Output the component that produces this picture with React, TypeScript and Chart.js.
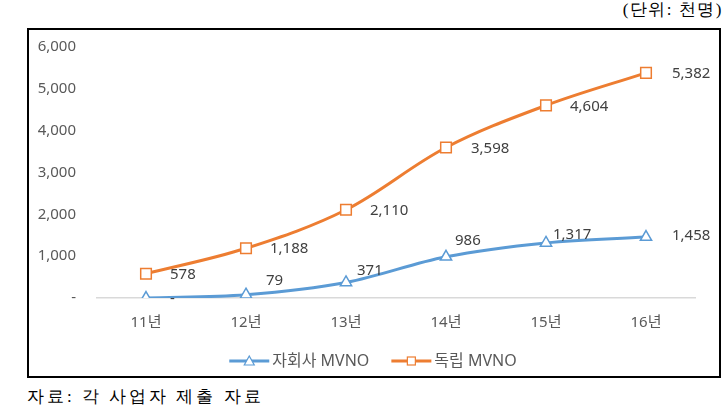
import React, { useEffect, useRef } from "react";
import { Chart, registerables } from "chart.js";

Chart.register(...registerables);

const categories = ["11년", "12년", "13년", "14년", "15년", "16년"];
const subsidiaryValues = [0, 79, 371, 986, 1317, 1458];
const independentValues = [578, 1188, 2110, 3598, 4604, 5382];
const seriesNames = ["자회사 MVNO", "독립 MVNO"];
const yTicks = [0, 1000, 2000, 3000, 4000, 5000, 6000];

const BLUE = "#5B9BD5";
const ORANGE = "#ED7D31";
const FONT = "'Noto Sans', 'Noto Sans CJK KR', sans-serif";

// label offsets relative to each point (style, not data)
const blueLabelOffsets = [
  [24, 1],
  [20, -14],
  [11, -12],
  [9, -16],
  [7, -8],
  [26, -1],
];
const orangeLabelOffsets = [
  [24, 1],
  [24, 0],
  [24, 1],
  [25, 1],
  [24, 1],
  [26, 1],
];

const fmt = (v: number) => (v === 0 ? "-" : v.toLocaleString("en-US"));

const labelPlugin = {
  id: "customLabels",
  afterDatasetsDraw(chart: any) {
    const ctx = chart.ctx;
    ctx.save();
    ctx.font = `15px ${FONT}`;
    ctx.fillStyle = "#404040";
    ctx.textAlign = "left";
    ctx.textBaseline = "middle";
    chart.data.datasets.forEach((ds: any, di: number) => {
      const meta = chart.getDatasetMeta(di);
      const offs = di === 0 ? blueLabelOffsets : orangeLabelOffsets;
      meta.data.forEach((el: any, i: number) => {
        const [dx, dy] = offs[i];
        ctx.fillText(fmt(ds.data[i]), el.x + dx, el.y + dy);
      });
    });
    ctx.restore();
  },
  afterDraw(chart: any) {
    const ctx = chart.ctx;
    ctx.save();
    ctx.font = `16px ${FONT}`;
    const y = 331;
    const lineW = 40;
    const gap = 3;
    const itemGap = 22;
    const widths = chart.data.datasets.map(
      (ds: any) => lineW + gap + ctx.measureText(ds.label).width
    );
    const total = widths.reduce((a: number, b: number) => a + b, 0) + itemGap * (widths.length - 1);
    let x = 344 - total / 2;
    chart.data.datasets.forEach((ds: any, di: number) => {
      ctx.strokeStyle = ds.borderColor;
      ctx.lineWidth = 3;
      ctx.beginPath();
      ctx.moveTo(x, y);
      ctx.lineTo(x + lineW, y);
      ctx.stroke();
      ctx.fillStyle = "#ffffff";
      ctx.lineWidth = 1.2;
      const cx = x + lineW / 2;
      if (ds.pointStyle === "rect") {
        ctx.fillRect(cx - 4, y - 4, 8, 8);
        ctx.strokeRect(cx - 4, y - 4, 8, 8);
      } else {
        ctx.beginPath();
        ctx.moveTo(cx, y - 5);
        ctx.lineTo(cx + 5, y + 4);
        ctx.lineTo(cx - 5, y + 4);
        ctx.closePath();
        ctx.fill();
        ctx.stroke();
      }
      ctx.fillStyle = "#595959";
      ctx.textAlign = "left";
      ctx.textBaseline = "middle";
      ctx.fillText(ds.label, x + lineW + gap, y);
      x += widths[di] + itemGap;
    });
    ctx.restore();
  },
};

export default function App() {
  const ref = useRef<HTMLCanvasElement | null>(null);
  useEffect(() => {
    if (!ref.current) return;
    const chart = new Chart(ref.current, {
      type: "line",
      data: {
        labels: categories,
        datasets: [
          {
            label: seriesNames[0],
            data: subsidiaryValues,
            borderColor: BLUE,
            backgroundColor: "#ffffff",
            borderWidth: 3,
            tension: 0.35,
            pointStyle: "triangle",
            pointRadius: 6.5,
            pointBorderWidth: 1.5,
            pointBorderColor: BLUE,
            pointBackgroundColor: "#ffffff",
          },
          {
            label: seriesNames[1],
            data: independentValues,
            borderColor: ORANGE,
            backgroundColor: "#ffffff",
            borderWidth: 3,
            tension: 0.35,
            pointStyle: "rect",
            pointRadius: 7.5,
            pointBorderWidth: 1.5,
            pointBorderColor: ORANGE,
            pointBackgroundColor: "#ffffff",
          },
        ],
      },
      options: {
        animation: false,
        responsive: false,
        maintainAspectRatio: false,
        layout: { padding: { top: 17, right: 23, left: 0, bottom: 0 } },
        plugins: {
          legend: { display: false },
          tooltip: { enabled: false },
        },
        scales: {
          x: {
            offset: true,
            grid: { display: false, offset: true },
            border: { display: false },
            ticks: {
              color: "#595959",
              font: { family: FONT, size: 15 },
              padding: 8,
            },
            afterFit: (s: any) => {
              s.height = 78;
              s.paddingLeft = 0;
              s.paddingRight = 0;
            },
          },
          y: {
            min: 0,
            max: 6000,
            afterBuildTicks: (s: any) => {
              s.ticks = yTicks.map((v) => ({ value: v }));
            },
            grid: {
              drawTicks: false,
              color: (c: any) => (c.tick && c.tick.value === 0 ? "#d9d9d9" : "rgba(0,0,0,0)"),
              lineWidth: 1.5,
            },
            border: { display: false },
            ticks: {
              color: "#595959",
              font: { family: FONT, size: 15 },
              padding: 20,
              callback: (v: any) => fmt(Number(v)),
            },
            afterFit: (s: any) => {
              s.width = 67;
              s.paddingTop = 0;
              s.paddingBottom = 0;
            },
          },
        },
      },
      plugins: [labelPlugin],
    });
    return () => chart.destroy();
  }, []);

  return (
    <div
      style={{
        position: "fixed",
        left: 0,
        top: 0,
        width: 726,
        height: 414,
        background: "#ffffff",
      }}
    >
      <div
        style={{
          position: "absolute",
          right: 3,
          top: 0,
          fontFamily: "serif",
          fontSize: 17,
          lineHeight: "19px",
          letterSpacing: 1.5,
          color: "#000",
          whiteSpace: "nowrap",
        }}
      >
        (단위: 천명)
      </div>
      <div
        style={{
          position: "absolute",
          left: 27,
          top: 28,
          width: 694,
          height: 350,
          border: "2px solid #000",
          boxSizing: "border-box",
        }}
      >
        <canvas ref={ref} width={690} height={346} style={{ display: "block" }} />
      </div>
      <div
        style={{
          position: "absolute",
          left: 27,
          top: 386,
          fontFamily: "serif",
          fontSize: 17,
          lineHeight: "22px",
          letterSpacing: 3,
          color: "#000",
          whiteSpace: "nowrap",
        }}
      >
        자료: 각 사업자 제출 자료
      </div>
    </div>
  );
}
